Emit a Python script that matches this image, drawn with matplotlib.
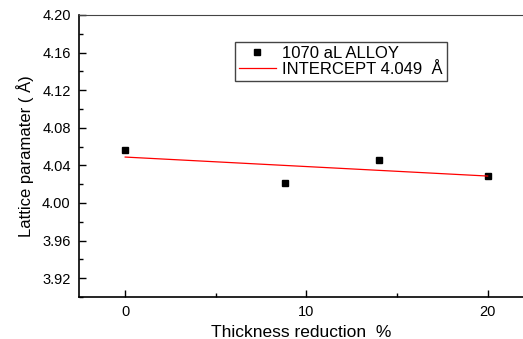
import numpy as np
import matplotlib
matplotlib.use("Agg")
import matplotlib.pyplot as plt
from matplotlib.ticker import MultipleLocator

plt.rcParams['font.family'] = ['Liberation Sans', 'DejaVu Sans']

# Measured data
reduction = [0, 8.8, 14, 20]
lattice = [4.056, 4.021, 4.046, 4.029]

# Linear fit
slope, intercept = np.polyfit(reduction, lattice, 1)
fit_x = np.array([0, 20])
fit_y = intercept + slope * fit_x

fig = plt.figure(figsize=(5.23, 3.39), dpi=100)
ax = fig.add_axes([0.151, 0.124, 0.849, 0.832])

ax.plot(reduction, lattice, 's', color='black', ms=5, label='1070 aL ALLOY')
ax.plot(fit_x, fit_y, '-', color='red', lw=0.9, label='INTERCEPT 4.049  Å')

ax.set_xlim(-2.55, 21.95)
ax.set_ylim(3.90, 4.20)
ax.xaxis.set_major_locator(MultipleLocator(10))
ax.xaxis.set_minor_locator(MultipleLocator(5))
ax.yaxis.set_major_locator(MultipleLocator(0.04))
ax.yaxis.set_minor_locator(MultipleLocator(0.02))
ax.yaxis.set_major_formatter(plt.FormatStrFormatter('%.2f'))
ax.tick_params(which='both', direction='in', labelsize=10.5, width=1)
ax.tick_params(which='major', length=5)
ax.tick_params(which='minor', length=3)
ax.tick_params(axis='x', pad=6)
ax.tick_params(axis='y', pad=6)

ax.spines['right'].set_visible(False)
ax.spines['top'].set_color('#444444')
for s in ['left', 'bottom']:
    ax.spines[s].set_linewidth(1.2)

ax.set_xlabel('Thickness reduction  %', fontsize=12.5, labelpad=4)
ax.set_ylabel('Lattice paramater ( Å)', fontsize=12,
              family=['Liberation Sans Narrow', 'Liberation Sans'], labelpad=6)

leg = ax.legend(loc='upper left', bbox_to_anchor=(0.351, 0.904), fontsize=12,
                borderaxespad=0, fancybox=False, framealpha=1,
                edgecolor='#444444', handlelength=2.2, borderpad=0.25,
                labelspacing=0.05, handletextpad=0.4)
leg.get_frame().set_linewidth(1)

fig.savefig('out.png', dpi=100)
